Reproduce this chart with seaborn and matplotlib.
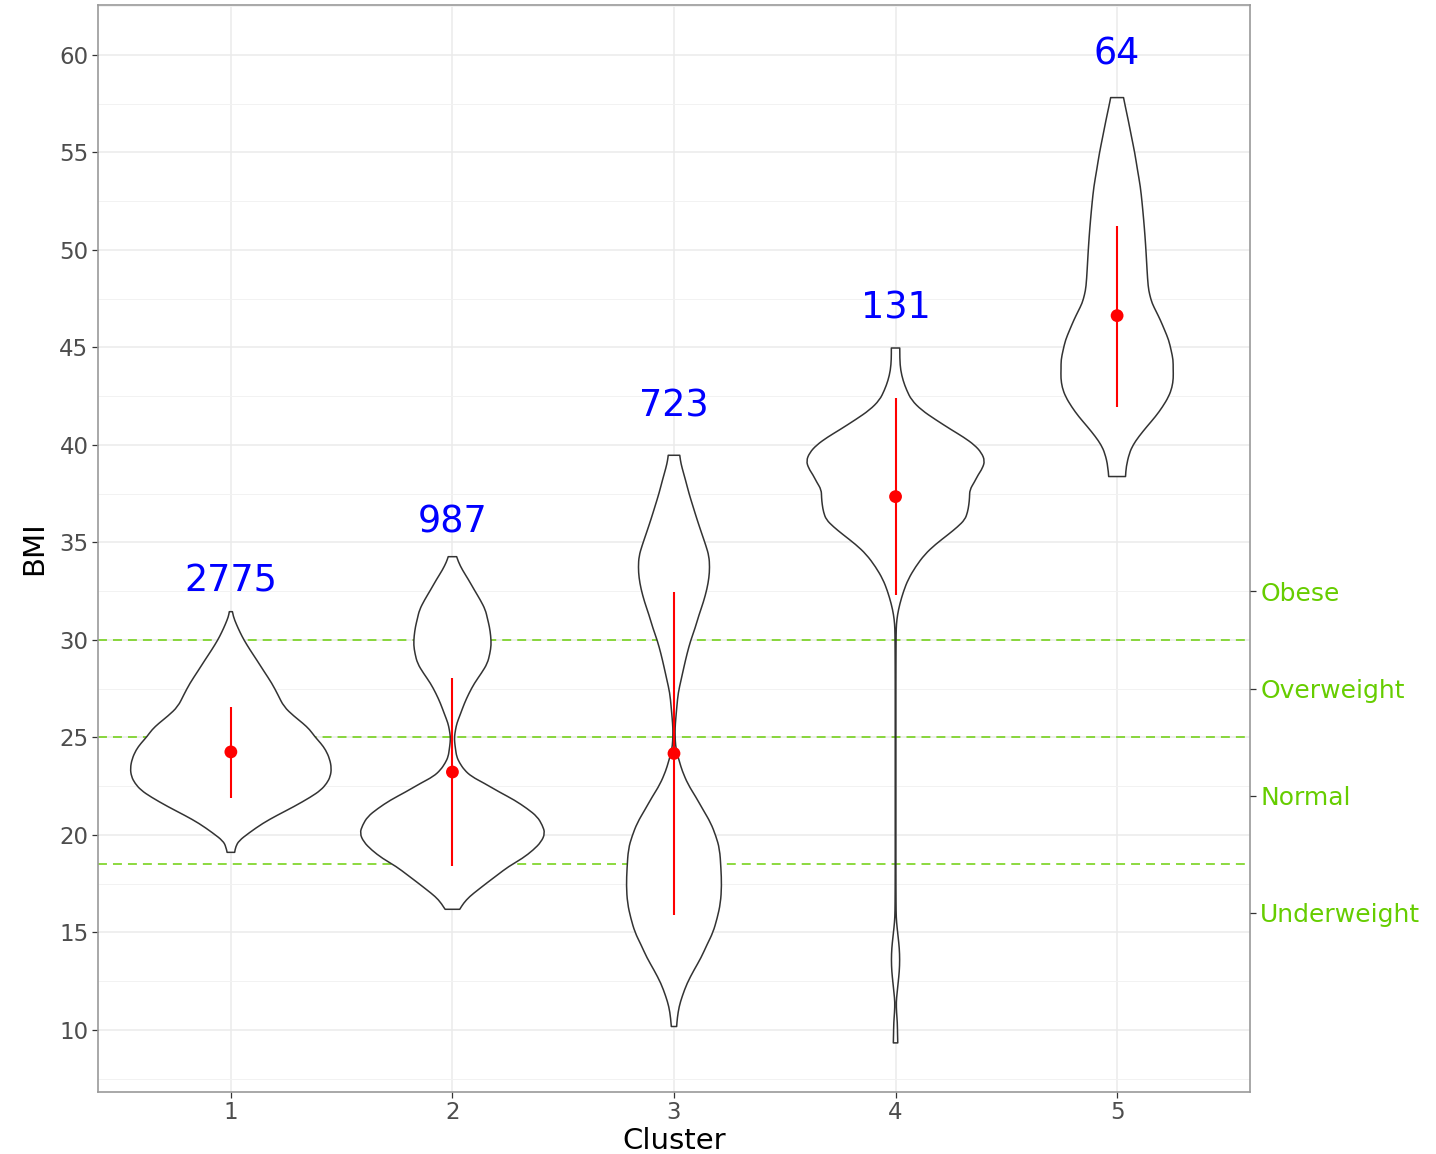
import numpy as np
import matplotlib
matplotlib.use("Agg")
import matplotlib.pyplot as plt
from matplotlib.path import Path
from matplotlib.patches import PathPatch
import seaborn as sns

# ---- data -------------------------------------------------------------
clusters = [1, 2, 3, 4, 5]
counts = [2775, 987, 723, 131, 64]
count_label_y = [33.0, 36.05, 42.0, 47.0, 60.05]

bmi_mean = [24.26, 23.23, 24.18, 37.35, 46.63]
bmi_low = [21.92, 18.41, 15.9, 32.3, 41.97]
bmi_high = [26.58, 28.07, 32.45, 42.4, 51.25]

# violin outlines: BMI levels and half-widths (in cluster-axis units)
c1_bmi = [19.11, 19.4, 19.7, 20.1, 20.6, 21.0, 21.45, 21.95, 22.3, 22.65,
          23.0, 23.42, 23.9, 24.36, 24.7, 25.04, 25.4, 25.73, 26.1, 26.58,
          27.2, 27.78, 28.4, 28.97, 29.5, 30.0, 30.4, 30.8, 31.2, 31.45]
c1_half = [0.017, 0.022, 0.036, 0.081, 0.144, 0.207, 0.284, 0.361, 0.406, 0.433,
           0.449, 0.454, 0.446, 0.428, 0.406, 0.379, 0.356, 0.325, 0.284, 0.239,
           0.212, 0.185, 0.149, 0.117, 0.086, 0.059, 0.041, 0.025, 0.011, 0.007]

c2_bmi = [16.19, 16.5, 16.84, 17.2, 17.52, 17.95, 18.38, 18.8, 19.23, 19.65,
          20.09, 20.5, 20.94, 21.35, 21.79, 22.2, 22.65, 23.0, 23.33, 23.7,
          24.02, 24.4, 24.75, 25.04, 25.4, 25.73, 26.2, 26.75, 27.25, 27.78,
          28.3, 28.8, 29.3, 29.74, 30.2, 30.68, 31.1, 31.54, 32.05, 32.56,
          33.1, 33.59, 34.0, 34.27]
c2_half = [0.033, 0.050, 0.077, 0.117, 0.153, 0.203, 0.253, 0.316, 0.365, 0.401,
           0.418, 0.406, 0.383, 0.338, 0.280, 0.212, 0.144, 0.086, 0.054, 0.032,
           0.019, 0.014, 0.010, 0.009, 0.014, 0.020, 0.036, 0.054, 0.074, 0.099,
           0.131, 0.158, 0.169, 0.175, 0.173, 0.167, 0.158, 0.149, 0.126, 0.099,
           0.072, 0.045, 0.027, 0.019]

c3_bmi = [10.18, 10.62, 11.2, 11.73, 12.4, 13.07, 13.7, 14.4, 15.0, 15.73,
          16.5, 17.4, 18.3, 19.29, 19.95, 20.62, 21.3, 21.96, 22.6, 23.29,
          23.75, 24.18, 24.6, 25.07, 25.5, 25.96, 26.6, 27.29, 27.95, 28.62,
          29.3, 29.96, 30.6, 31.29, 31.95, 32.62, 33.2, 33.73, 34.3, 34.84,
          35.5, 36.18, 36.84, 37.5, 38.2, 38.84, 39.2, 39.47]
c3_half = [0.012, 0.015, 0.023, 0.037, 0.059, 0.090, 0.122, 0.150, 0.176, 0.195,
           0.210, 0.215, 0.212, 0.206, 0.189, 0.166, 0.131, 0.098, 0.063, 0.037,
           0.025, 0.014, 0.007, 0.005, 0.005, 0.008, 0.013, 0.019, 0.032, 0.045,
           0.059, 0.075, 0.095, 0.113, 0.133, 0.149, 0.158, 0.161, 0.158, 0.144,
           0.124, 0.104, 0.086, 0.068, 0.052, 0.036, 0.029, 0.026]

c4_bmi = [9.34, 9.8, 10.4, 10.9, 11.43, 11.9, 12.45, 13.0, 13.6, 14.2,
          14.74, 15.25, 15.77, 16.5, 18.0, 20.0, 22.0, 24.0, 26.0, 28.0,
          29.5, 30.3, 30.82, 31.3, 31.84, 32.5, 33.11, 33.75, 34.39, 34.9,
          35.41, 35.8, 36.17, 36.55, 36.94, 37.3, 37.7, 38.1, 38.47, 38.8,
          39.18, 39.6, 40.0, 40.4, 40.77, 41.3, 41.79, 42.3, 42.81, 43.3,
          43.83, 44.4, 44.97]
c4_half = [0.010, 0.009, 0.008, 0.0045, 0.003, 0.007, 0.012, 0.017, 0.019, 0.017,
           0.012, 0.007, 0.003, 0.002, 0.0015, 0.0015, 0.0015, 0.0015, 0.0015, 0.0015,
           0.002, 0.0025, 0.004, 0.009, 0.019, 0.036, 0.057, 0.090, 0.132, 0.180,
           0.238, 0.280, 0.313, 0.325, 0.331, 0.334, 0.335, 0.356, 0.373, 0.392,
           0.403, 0.388, 0.356, 0.307, 0.253, 0.180, 0.117, 0.072, 0.050, 0.034,
           0.023, 0.019, 0.019]

c5_bmi = [38.38, 38.89, 39.57, 40.0, 40.43, 40.95, 41.45, 41.95, 42.48, 42.95,
          43.42, 43.9, 44.36, 44.85, 45.38, 45.9, 46.41, 46.85, 47.26, 47.7,
          48.12, 49.0, 49.83, 50.7, 51.54, 52.4, 53.25, 54.1, 54.96, 55.8,
          56.67, 57.3, 57.81]
c5_half = [0.038, 0.041, 0.055, 0.072, 0.098, 0.135, 0.173, 0.205, 0.233, 0.248,
           0.254, 0.253, 0.253, 0.244, 0.233, 0.214, 0.195, 0.176, 0.158, 0.147,
           0.140, 0.135, 0.131, 0.126, 0.120, 0.113, 0.105, 0.092, 0.080, 0.065,
           0.050, 0.038, 0.029]

violin_bmi = [c1_bmi, c2_bmi, c3_bmi, c4_bmi, c5_bmi]
violin_half = [c1_half, c2_half, c3_half, c4_half, c5_half]

# BMI category cut points and the labels placed between them
cut_points = [30, 25, 18.5]
category_names = ["Obese", "Overweight", "Normal", "Underweight"]
category_label_y = [32.5, 27.5, 22.0, 16.0]


def violin_path(cx, yb, hw):
    """Closed outline: each side drawn as a chain of quadratic Bezier
    segments through the outline knots, flat caps at both ends."""
    yb = np.asarray(yb, float)
    hw = np.asarray(hw, float)
    left = np.column_stack([cx - hw, yb])            # bottom -> top
    right = np.column_stack([cx + hw, yb])[::-1]     # top -> bottom

    verts, codes = [tuple(left[0])], [Path.MOVETO]

    def add_side(pts):
        for i in range(1, len(pts) - 1):
            mid = (pts[i] + pts[i + 1]) / 2.0
            verts.extend([tuple(pts[i]), tuple(mid)])
            codes.extend([Path.CURVE3, Path.CURVE3])
        verts.append(tuple(pts[-1]))
        codes.append(Path.LINETO)

    add_side(left)
    verts.append(tuple(right[0]))
    codes.append(Path.LINETO)
    add_side(right)
    verts.append(tuple(left[0]))
    codes.append(Path.CLOSEPOLY)
    return Path(verts, codes)


# ---- style ------------------------------------------------------------
sns.set_theme(style="whitegrid", rc={
    "axes.edgecolor": "#9a9a9a",
    "axes.linewidth": 1.2,
    "grid.color": "#EBEBEB",
    "xtick.bottom": True,
    "ytick.left": True,
})
plt.rcParams["font.family"] = ["DejaVu Sans"]

green = "#66CD00"
tick_grey = "#4D4D4D"

fig = plt.figure(figsize=(14.36, 11.54), dpi=100)
ax = fig.add_axes([0.0682, 0.0537, 0.8023, 0.9420])

ax.set_xlim(0.4, 5.6)
ax.set_ylim(6.82, 62.56)
ax.set_xticks(clusters)
ax.set_xticklabels([str(c) for c in clusters])
ax.set_yticks(np.arange(10, 61, 5))
ax.set_yticks(np.arange(7.5, 62.6, 5), minor=True)
ax.grid(True, which="major", color="#EBEBEB", lw=1.1, zorder=0)
ax.grid(True, which="minor", axis="y", color="#F2F2F2", lw=0.7, zorder=0)
ax.set_axisbelow(True)

ax.tick_params(axis="both", which="major", length=4.3, width=0.9,
               color="#333333", labelsize=16.5, labelcolor=tick_grey, pad=2.5)
ax.tick_params(axis="both", which="minor", length=0)

# category cut lines behind the violins
for cp in cut_points:
    ax.axhline(cp, color=green, lw=1.4, alpha=0.75, dashes=(4.6, 3.1), zorder=1)

# violins
for cx, yb, hw in zip(clusters, violin_bmi, violin_half):
    patch = PathPatch(violin_path(cx, yb, hw), facecolor="white",
                      edgecolor="#333333", lw=1.1, joinstyle="round", zorder=3)
    ax.add_patch(patch)

# mean with range
ax.vlines(clusters, bmi_low, bmi_high, color="red", lw=1.5, zorder=4)
sns.scatterplot(x=clusters, y=bmi_mean, color="red", s=85, edgecolor="none",
                ax=ax, zorder=5, legend=False)

# group sizes
for cx, ny, n in zip(clusters, count_label_y, counts):
    ax.text(cx, ny, str(n), color="#0000FF", fontsize=26.3,
            ha="center", va="center", zorder=6)

ax.set_xlabel("Cluster", fontsize=21, color="black", labelpad=2)
ax.set_ylabel("BMI", fontsize=21, color="black", labelpad=8)

# right-hand category labels
ax2 = ax.twinx()
ax2.set_ylim(ax.get_ylim())
ax2.set_yticks(category_label_y)
ax2.set_yticklabels(category_names)
ax2.grid(False)
ax2.tick_params(axis="y", length=4.3, width=0.9, color="#333333",
                labelsize=18, labelcolor=green, pad=3)
for sp in ax2.spines.values():
    sp.set_visible(False)

fig.savefig("out.png", dpi=100)
